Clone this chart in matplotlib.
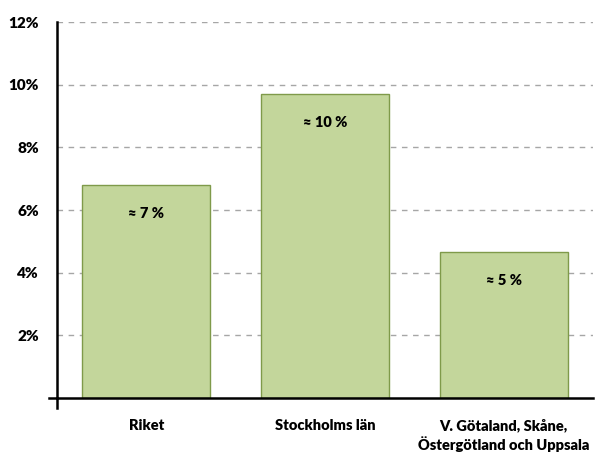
import matplotlib.pyplot as plt
import numpy as np

plt.rcParams['font.family'] = ['Lato', 'DejaVu Sans']
plt.rcParams['font.weight'] = 'bold'

categories = ['Riket', 'Stockholms län', 'V. Götaland, Skåne,\nÖstergötland och Uppsala']
values = [6.8, 9.7, 4.65]
labels = ['≈ 7 %', '≈ 10 %', '≈ 5 %']
yticks = [2, 4, 6, 8, 10, 12]

fig = plt.figure(figsize=(6.09, 4.53), dpi=100)
ax = fig.add_axes([0.0936, 0.1214, 0.8801, 0.83])

x = np.arange(len(categories))
ax.bar(x, values, width=0.715, color='#C3D69B', edgecolor='#7F9A4A', linewidth=1, zorder=3)

for xi, v, lab in zip(x, values, labels):
    ax.text(xi, v - 0.9, lab, ha='center', va='center', fontsize=10.5, fontweight='heavy', zorder=4)

ax.set_xlim(-0.5, 2.5)
ax.set_ylim(0, 12)
ax.set_yticks(yticks)
ax.set_yticklabels([f'{t}%' for t in yticks], fontsize=11, fontweight='heavy')
ax.tick_params(axis='y', length=0, pad=13)
ax.set_xticks(x)
ax.set_xticklabels(categories, fontsize=10.5, fontweight='heavy', linespacing=1.25)
ax.tick_params(axis='x', length=0, pad=15)

ax.yaxis.grid(True, linestyle=(0, (4, 4)), color='#A6A6A6', linewidth=1, zorder=0)
for s in ['top', 'right', 'bottom']:
    ax.spines[s].set_visible(False)
ax.spines['left'].set_linewidth(1.8)

# axis lines extended like the original
ax.axhline(0, xmin=-8 / 536, xmax=1, color='black', linewidth=1.8, clip_on=False, zorder=5)
ax.axvline(-0.5, ymin=-10 / 376, ymax=0, color='black', linewidth=1.8, clip_on=False, zorder=5)

fig.savefig('out.png', dpi=100)
